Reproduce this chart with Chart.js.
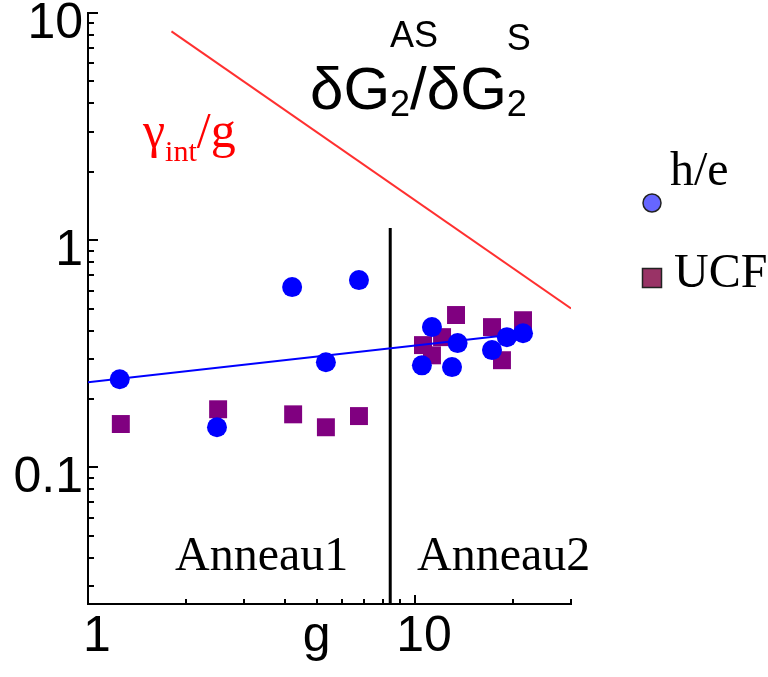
<!DOCTYPE html>
<html>
<head>
<meta charset="utf-8">
<script src="https://cdn.jsdelivr.net/npm/chart.js@4"></script>
<style>
  html, body { margin: 0; padding: 0; background: #fff; }
  #wrap { width: 768px; height: 677px; }
</style>
</head>
<body>
<div id="wrap"><canvas id="chart"></canvas></div>
<script>
// h/e points (g, ratio)
const heG = [1.25, 2.48, 4.21, 5.34, 6.74, 10.5, 11.27, 12.98, 13.5, 17.2, 19.1, 21.4];
const heVal = [0.244, 0.150, 0.621, 0.290, 0.667, 0.281, 0.414, 0.276, 0.352, 0.328, 0.374, 0.389];
// UCF points
const ucfG = [1.26, 2.50, 4.24, 5.34, 6.74, 10.58, 11.27, 12.1, 13.35, 17.2, 18.45, 21.4];
const ucfVal = [0.155, 0.180, 0.171, 0.150, 0.168, 0.345, 0.311, 0.374, 0.468, 0.414, 0.296, 0.444];
// fit line through h/e
const fitG = [1, 20];
const fitVal = [0.237, 0.384];
// gamma_int / g
const gammaG = [1.8, 30];
const gammaVal = [8.3, 0.5];
// separation Anneau1 / Anneau2
const sepG = [8.4, 8.4];
const sepVal = [1.13, 0.025];

// ticks
const xTicks = [1, 4.7, 10];
const xTickLabels = ["1", "g", "10"];
const yTicks = [0.1, 1, 10];
const yTickLabels = ["0.1", "1", "10"];
const xMinor = [2, 3, 4, 5, 6, 7, 8, 9, 20, 30];
const xMajor = [10];
const yMinor = [9, 8, 7, 6, 5, 4, 3, 2, 0.9, 0.8, 0.7, 0.6, 0.5, 0.4, 0.3, 0.2, 0.09, 0.08, 0.07, 0.06, 0.05, 0.04, 0.03];
const yMajor = [10, 1, 0.1];

const pts = (xs, ys) => xs.map((x, i) => ({ x: x, y: ys[i] }));

const SANS = '"Liberation Sans", Arial, sans-serif';
const SERIF = '"Liberation Serif", "Times New Roman", serif';

// tick marks pointing inside the plot
const innerTicks = {
  id: "innerTicks",
  afterDraw(chart) {
    const { ctx, chartArea: a, scales } = chart;
    ctx.save();
    ctx.strokeStyle = "#000";
    ctx.lineWidth = 2;
    ctx.beginPath();
    yMinor.forEach((v) => {
      const y = Math.round(scales.y.getPixelForValue(v));
      ctx.moveTo(a.left, y);
      ctx.lineTo(a.left + 6, y);
    });
    yMajor.forEach((v) => {
      const y = Math.round(scales.y.getPixelForValue(v));
      ctx.moveTo(a.left, y);
      ctx.lineTo(a.left + 10, y);
    });
    xMinor.forEach((v) => {
      const x = Math.round(scales.x.getPixelForValue(v));
      ctx.moveTo(x, a.bottom);
      ctx.lineTo(x, a.bottom - 5);
    });
    xMajor.forEach((v) => {
      const x = Math.round(scales.x.getPixelForValue(v));
      ctx.moveTo(x, a.bottom);
      ctx.lineTo(x, a.bottom - 9);
    });
    ctx.stroke();
    ctx.restore();
  },
};

// annotations + legend
const annotations = {
  id: "annotations",
  afterDraw(chart) {
    const ctx = chart.ctx;
    ctx.save();
    ctx.textBaseline = "alphabetic";
    ctx.textAlign = "left";

    // title dG2^AS / dG2^S
    ctx.fillStyle = "#000";
    let x = 310;
    const big = "60px " + SANS;
    const small = "36px " + SANS;
    function put(txt, font, y) {
      ctx.font = font;
      ctx.fillText(txt, x, y);
      return ctx.measureText(txt).width;
    }
    x += put("δ", big, 109);
    x += put("G", big, 109);
    put("AS", small, 47);
    x += put("2", small, 116);
    x += put("/", big, 109);
    x += put("δ", big, 109);
    x += put("G", big, 109);
    put("S", small, 50);
    put("2", small, 116);

    // gamma_int / g
    ctx.fillStyle = "#ff0000";
    x = 143;
    x += put("γ", "50px " + SERIF, 147);
    x += put("int", "30px " + SERIF, 161);
    put("/g", "50px " + SERIF, 147);

    // ring labels
    ctx.fillStyle = "#000";
    ctx.font = "48px " + SERIF;
    ctx.fillText("Anneau1", 175, 570);
    ctx.fillText("Anneau2", 417, 570);

    // legend
    const items = [
      { label: "h/e", color: "#6666ff", style: "circle", cx: 652, cy: 203, tx: 670, ty: 185 },
      { label: "UCF", color: "#993366", style: "rect", cx: 652, cy: 278, tx: 674, ty: 287 },
    ];
    items.forEach((it) => {
      ctx.fillStyle = it.color;
      ctx.strokeStyle = "#222";
      ctx.lineWidth = 1.5;
      ctx.beginPath();
      if (it.style === "circle") ctx.arc(it.cx, it.cy, 9, 0, Math.PI * 2);
      else ctx.rect(it.cx - 9.5, it.cy - 9.5, 19, 19);
      ctx.fill();
      ctx.stroke();
      ctx.fillStyle = "#000";
      ctx.font = "48px " + SERIF;
      ctx.fillText(it.label, it.tx, it.ty);
    });
    ctx.restore();
  },
};

new Chart(document.getElementById("chart"), {
  type: "scatter",
  data: {
    datasets: [
      {
        label: "h/e",
        data: pts(heG, heVal),
        backgroundColor: "#0000ff",
        borderWidth: 0,
        pointStyle: "circle",
        pointRadius: 10,
      },
      {
        label: "fit",
        data: pts(fitG, fitVal),
        showLine: true,
        borderColor: "#0000ff",
        borderWidth: 2,
        pointRadius: 0,
      },
      {
        label: "UCF",
        data: pts(ucfG, ucfVal),
        backgroundColor: "#800080",
        borderWidth: 0,
        pointStyle: "rect",
        pointRadius: 12.7,
      },
      {
        label: "gamma",
        data: pts(gammaG, gammaVal),
        showLine: true,
        borderColor: "#ff3030",
        borderWidth: 2,
        pointRadius: 0,
      },
      {
        label: "sep",
        data: pts(sepG, sepVal),
        showLine: true,
        borderColor: "#000",
        borderWidth: 3,
        pointRadius: 0,
      },
    ],
  },
  options: {
    responsive: true,
    maintainAspectRatio: false,
    animation: false,
    layout: { padding: { top: 13, right: 197, left: 0, bottom: 0 } },
    plugins: { legend: { display: false }, tooltip: { enabled: false } },
    scales: {
      x: {
        type: "logarithmic",
        min: 1,
        max: 30,
        grid: { display: false, drawTicks: false, tickLength: 0 },
        border: { display: true, color: "#000", width: 2 },
        afterBuildTicks: (s) => {
          s.ticks = xTicks.map((v) => ({ value: v }));
        },
        afterFit: (s) => {
          s.height = 73;
          s.paddingLeft = 0;
          s.paddingRight = 0;
        },
        ticks: {
          autoSkip: false,
          maxRotation: 0,
          padding: 3,
          labelOffset: 9,
          color: "#000",
          font: { family: SANS, size: 50 },
          callback: (v) => xTickLabels[xTicks.indexOf(v)],
        },
      },
      y: {
        type: "logarithmic",
        min: 0.025,
        max: 10,
        grid: { display: false, drawTicks: false, tickLength: 0 },
        border: { display: true, color: "#000", width: 2 },
        afterBuildTicks: (s) => {
          s.ticks = yTicks.map((v) => ({ value: v }));
        },
        afterFit: (s) => {
          s.width = 88;
          s.paddingTop = 0;
          s.paddingBottom = 0;
        },
        ticks: {
          autoSkip: false,
          padding: 5,
          labelOffset: 11,
          color: "#000",
          font: { family: SANS, size: 50 },
          callback: (v) => yTickLabels[yTicks.indexOf(v)],
        },
      },
    },
  },
  plugins: [innerTicks, annotations],
});
</script>
</body>
</html>
